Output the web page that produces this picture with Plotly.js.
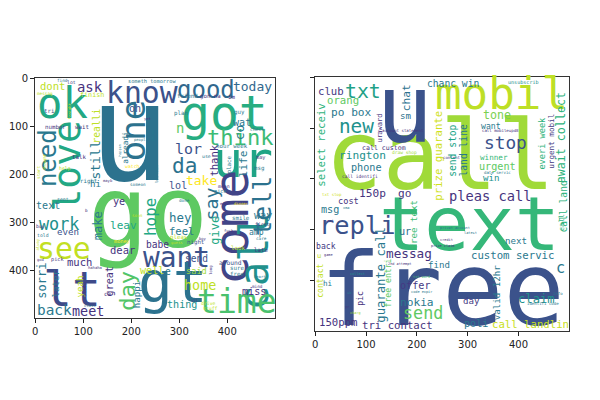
<!DOCTYPE html>
<html>
<head>
<meta charset="utf-8">
<script src="https://cdn.plot.ly/plotly-3.0.1.min.js"></script>
<style>
  body { margin: 0; background: white; }
  #clouds { width: 600px; height: 400px; }
</style>
</head>
<body>
<div id="clouds"></div>
<script>
// word clouds: position in image pixels (0-500), font size in image pixels
const leftWords = [
    "u","go","love","ok","know","good","today","got","ur","think",
    "one","need","lt","gt","see","want","come","call","tell","time",
    "day","work","da","lor","n","co","wat","take","thank","life",
    "lol","say","hope","hey","feel","way","amp","give","leav","make",
    "text","even","ye","dear","babe","much","sorri","later","yeah","great",
    "happi","back","meet","thing","home","send","said","miss","well","e",
    "hi","still","realli","ask","dont","finish","oh","alreadi","tri","number",
    "wait","talk","right","help","watch","someth tomorrow","find","lot","messag","friend",
    "gon na","im","guy","plan","check","hour week","place","msg","may","mean",
    "nice","use","smile","first","late","look","around","sure","free","night",
    "pleas","done","sent","told","pick","money","sleep","hahaha","ca","class",
    "stuff","drive","someon","mayb","b","soon","let know","start","thought","buy",
    "alway","god","tonight","yet","phone","peopl","happen","ill","care","fuck",
    "mind","heart","long","end","dinner","boy","guess"]
const leftX = [
    196,235,67,56,223,356,452,394,433,427,
    204,28,77,285,60,294,408,456,473,421,
    192,50,310,319,302,425,431,346,373,433,
    298,367,240,302,304,475,460,375,183,131,
    27,69,175,181,254,92,15,44,94,154,
    212,40,110,306,344,335,335,456,244,277,
    125,125,127,115,36,119,208,188,29,42,
    98,92,110,62,202,244,56,75,21,317,
    365,408,425,304,463,410,404,467,471,394,
    385,356,429,473,471,423,406,421,421,333,
    298,310,58,17,48,181,102,125,150,115,
    365,360,214,152,106,212,253,7,19,10,
    4,10,72,233,243,219,176,331,471,404,
    462,469,366,392,430,350,296]
const leftY = [
    115,279,183,52,30,25,17,73,170,123,
    108,167,440,425,355,373,310,383,265,466,
    442,304,181,148,104,112,92,212,171,179,
    223,262,288,290,319,285,321,317,306,308,
    265,321,256,358,346,383,421,427,433,423,
    452,483,485,471,431,375,402,444,400,402,
    221,171,100,19,17,34,62,144,69,102,
    102,165,215,188,183,6,4,8,31,38,
    38,40,71,73,106,142,179,188,165,225,
    235,163,292,304,358,354,383,396,408,342,
    332,254,252,328,377,340,440,394,450,473,
    479,469,221,212,275,285,198,196,174,308,
    346,377,69,84,119,127,151,462,333,318,
    434,413,399,261,261,334,343]
const leftSize = [
    281,208,79,88,62,50,27,100,104,46,
    71,50,100,120,62,58,100,84,52,69,
    46,35,44,31,29,27,21,27,22,23,
    21,38,33,26,22,21,17,25,23,25,
    21,19,21,22,20,22,25,19,19,21,
    19,30,28,21,28,20,18,21,21,20,
    19,27,20,29,22,14,21,16,12,12,
    12,12,12,10,10,11,9,10,9,12,
    12,12,12,12,10,12,12,12,11,10,
    11,10,12,10,12,12,13,12,12,12,
    12,9,10,10,11,11,10,8,12,8,
    10,10,9,8,9,9,8,9,8,10,
    8,8,8,8,8,8,7,8,9,8,
    9,8,8,8,8,8,8]
const leftVertical = [
    0,0,1,0,0,0,0,0,0,0,
    1,1,0,0,0,0,1,1,1,0,
    1,0,0,0,0,1,0,0,1,1,
    0,1,1,0,0,0,0,1,0,1,
    0,0,0,0,0,0,1,1,1,1,
    1,0,0,0,0,0,0,0,0,0,
    0,1,1,0,0,0,0,1,0,0,
    0,0,0,0,0,0,0,0,0,0,
    0,0,0,0,0,0,1,0,0,0,
    0,0,0,0,0,0,0,0,0,0,
    0,0,0,0,0,0,1,0,0,0,
    0,0,0,0,0,0,1,1,1,0,
    1,0,1,0,1,0,1,0,0,0,
    0,0,1,0,0,0,0]
const leftColor = [
    "#2c728e","#5ec962","#22a884","#22a884","#3b528b","#31688e","#31688e","#27ad81","#20a486","#3dbc74",
    "#2c728e","#2a788e","#3e4a89","#2c728e","#c2df23","#3b528b","#414487","#21918c","#2c728e","#4ac16d",
    "#52c569","#21918c","#2c728e","#3b528b","#5ec962","#2a788e","#2a788e","#fde725","#46337e","#2a788e",
    "#3b528b","#2c728e","#22a884","#2a788e","#2a788e","#2a788e","#2a788e","#22a884","#22a884","#2a788e",
    "#2a788e","#3b528b","#46337e","#46337e","#46337e","#46337e","#2a788e","#2a788e","#bddf26","#46337e",
    "#2a788e","#2a788e","#46337e","#21918c","#bddf26","#3b528b","#a0da39","#46337e","#bddf26","#2a788e",
    "#2a788e","#2a788e","#bddf26","#46337e","#bddf26","#bddf26","#3b528b","#2a788e","#3b528b","#46337e",
    "#46337e","#46337e","#2a788e","#bddf26","#fde725","#2a788e","#2a788e","#46337e","#bddf26","#2a788e",
    "#46337e","#46337e","#2a788e","#2a788e","#2a788e","#2a788e","#2a788e","#2a788e","#46337e","#46337e",
    "#2a788e","#2a788e","#2a788e","#46337e","#46337e","#bddf26","#3b528b","#2a788e","#2a788e","#3b528b",
    "#bddf26","#2a788e","#2a788e","#2a788e","#46337e","#fde725","#46337e","#46337e","#46337e","#2a788e",
    "#bddf26","#bddf26","#2a788e","#46337e","#46337e","#bddf26","#2a788e","#bddf26","#bddf26","#46337e",
    "#bddf26","#46337e","#bddf26","#46337e","#2a788e","#2a788e","#2a788e","#46337e","#2a788e","#46337e",
    "#46337e","#2a788e","#46337e","#46337e","#fde725","#46337e","#bddf26"]

const rightWords = [
    "call","free","text","u","mobil","txt","new","club","orang","po box",
    "select receiv","chat","sm","award","ur","account statement","prize guarante","rington","call custom","draw shop",
    "phone","call identifi","150p","go","cost","txt stop","chanc win","unsubscrib","tone","want",
    "stop","call mobileupd8","content","winner","urgent","date servic","win","send stop","land line","everi week",
    "urgent mobil","await collect","pleas call","call land","repli","msg","ur","free text","messag","custom servic",
    "c","next","call","privat account","latest","credit","prize claim","2nd attempt","find","back",
    "u","game","contact","hi","collect","guarante call","free entri","pic","offer","nokia",
    "send","150ppm","tri contact","ub","yr","charg","txt word","code expir","day","valid 12hr",
    "claim","poli","call landlin","info","identifi code","sexi","xma"]
const rightX = [
    246,250,303,175,366,94,81,31,55,71,
    12,179,177,126,126,173,242,93,136,175,
    100,89,112,175,65,33,272,409,358,346,
    374,364,270,352,358,358,346,270,291,447,
    465,484,344,488,83,30,177,195,185,388,
    482,396,484,276,305,258,252,167,244,22,
    8,26,10,26,83,130,144,89,197,201,
    213,45,161,67,63,79,209,210,307,358,
    435,317,423,478,449,28,60]
const rightY = [
    155,419,289,63,31,28,96,28,45,69,
    134,41,77,93,120,104,154,154,140,148,
    177,195,228,228,244,230,12,10,75,96,
    128,104,157,157,175,187,199,144,144,130,
    126,120,234,254,291,260,303,291,346,350,
    376,323,287,297,307,321,333,368,370,333,
    350,350,400,406,388,390,405,435,410,443,
    465,482,488,425,453,465,393,423,441,425,
    437,484,486,425,445,282,258]
const rightSize = [
    188,200,148,187,87,39,38,21,21,22,
    21,22,18,14,14,8,21,22,13,9,
    20,9,22,22,17,8,19,10,23,16,
    35,8,8,15,20,8,18,19,19,17,
    15,23,27,19,50,20,20,18,25,21,
    30,18,14,7,7,7,7,7,18,16,
    14,7,16,15,7,24,16,16,20,22,
    33,21,21,7,7,7,7,7,18,18,
    24,20,21,8,8,7,7]
const rightVertical = [
    0,0,0,0,0,0,0,0,0,0,
    1,1,0,1,1,0,1,0,0,0,
    0,0,0,0,0,0,0,0,0,0,
    0,0,0,0,0,0,0,1,1,1,
    1,1,0,1,0,0,0,1,0,0,
    0,0,1,0,0,0,0,0,0,0,
    0,0,1,0,0,1,1,1,0,0,
    0,0,0,0,0,0,0,0,0,1,
    0,0,0,0,0,0,0]
const rightColor = [
    "#a0da39","#3b528b","#35b779","#3b528b","#bddf26","#1fa187","#21918c","#443983","#5ec962","#2a788e",
    "#2eb37c","#2c728e","#2c728e","#46337e","#46337e","#46337e","#d0e11c","#21918c","#46337e","#a0da39",
    "#2a788e","#46337e","#46337e","#46337e","#46337e","#d0e11c","#2a788e","#21918c","#7ad151","#2a788e",
    "#3b528b","#46337e","#46337e","#35b779","#5ec962","#2a788e","#21918c","#20a486","#2a788e","#2eb37c",
    "#443983","#2eb37c","#46337e","#2eb37c","#3b528b","#2a788e","#2c728e","#3dbc74","#46337e","#2a788e",
    "#2a788e","#2a788e","#2eb37c","#2a788e","#2a788e","#46337e","#46337e","#46337e","#2a788e","#443983",
    "#c2df23","#46337e","#c2df23","#2a788e","#21918c","#2a788e","#5ec962","#46337e","#443983","#2a788e",
    "#5ec962","#46337e","#46337e","#2a788e","#46337e","#a0da39","#3dbc74","#2a788e","#443983","#2a788e",
    "#21918c","#2a788e","#c8e020","#2a788e","#2a788e","#46337e","#2a788e"]

const imageTicks = [0, 100, 200, 300, 400]

function cloud(words, xs, ys, sizes, vertical, colors, xref, yref, scale) {
    // one annotation per word, placed in image coordinates on the subplot's axes
    return words.map((w, i) => ({
        text: w,
        x: xs[i],
        y: ys[i],
        xref: xref,
        yref: yref,
        showarrow: false,
        xanchor: "center",
        yanchor: "middle",
        textangle: vertical[i] ? -90 : 0,
        font: {
            family: "DejaVu Sans Mono, monospace",
            size: sizes[i] * scale,
            color: colors[i],
        },
    }))
}

function imageAxis(domain, range, anchor, labels) {
    return {
        domain: domain,
        range: range,
        anchor: anchor,
        tickvals: imageTicks,
        ticks: "outside",
        ticklen: 4,
        tickwidth: 1,
        tickcolor: "#222",
        showticklabels: labels,
        tickfont: {family: "DejaVu Sans, sans-serif", size: 10, color: "#222"},
        showline: true,
        mirror: true,
        linecolor: "#333",
        linewidth: 1,
        showgrid: false,
        zeroline: false,
        fixedrange: true,
    }
}

const leftDom = [35 / 600, 275 / 600]
const rightDom = [315 / 600, 569 / 600]
const leftScale = 240 / 500
const rightScale = 254 / 500

Plotly.newPlot(
    document.getElementById("clouds"),
    [
        {x: [null], y: [null], xaxis: "x", yaxis: "y", hoverinfo: "skip", showlegend: false},
        {x: [null], y: [null], xaxis: "x2", yaxis: "y2", hoverinfo: "skip", showlegend: false},
    ],
    {
        width: 600,
        height: 400,
        margin: {l: 0, r: 0, t: 0, b: 0},
        paper_bgcolor: "white",
        plot_bgcolor: "white",
        showlegend: false,
        xaxis: imageAxis(leftDom, [-0.5, 499.5], "y", true),
        yaxis: imageAxis([1 - 318 / 400, 1 - 78 / 400], [499.5, -0.5], "x", true),
        xaxis2: imageAxis(rightDom, [-0.5, 499.5], "y2", true),
        yaxis2: imageAxis([1 - 331 / 400, 1 - 77 / 400], [499.5, -0.5], "x2", false),
        annotations: cloud(leftWords, leftX, leftY, leftSize, leftVertical, leftColor, "x", "y", leftScale)
            .concat(cloud(rightWords, rightX, rightY, rightSize, rightVertical, rightColor, "x2", "y2", rightScale)),
    },
    {staticPlot: true}
)
</script>
</body>
</html>
